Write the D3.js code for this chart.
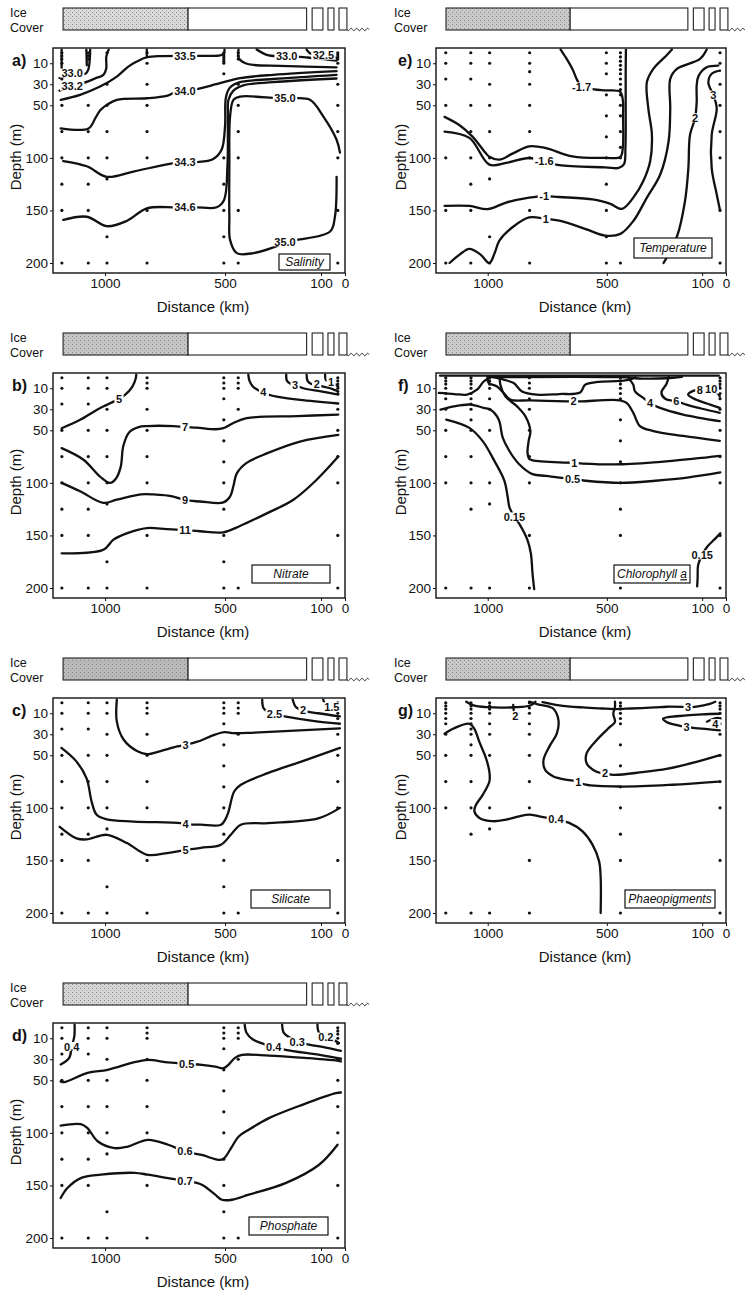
<!DOCTYPE html>
<html>
<head>
<meta charset="utf-8">
<script src="https://cdn.jsdelivr.net/npm/d3@7"></script>
<style>
  body { margin: 0; background: #fff; }
  svg text { font-family: "Liberation Sans", Arial, sans-serif; fill: #111; }
</style>
</head>
<body>
<div id="chart"></div>
<script>
// ---- data: distances in km, depths in m ----

const xTicks = [1000, 500, 100, 0];
const yTicks = [10, 30, 50, 100, 150, 200];

// ice cover along the transect (km)
const iceCover = [
  {from: 1175, to: 654, pack: true},
  {from: 654, to: 160, pack: false},
  {from: 137, to: 92, pack: false},
  {from: 71, to: 46, pack: false},
  {from: 25, to: -8, pack: false}
];
const openWater = [-8, -100];

// sampling stations [km, depths]
const samplesA = [
  [1180, [0, 3, 6, 10, 25, 50, 75, 100, 125, 150, 200]],
  [1070, [0, 3, 6, 50, 75, 100, 125, 150, 200]],
  [992, [0, 30, 50, 75, 100, 120, 175, 200]],
  [825, [0, 10, 30, 50, 75, 100, 150, 200]],
  [505, [0, 2, 4, 6, 8, 10, 20, 100, 125, 150, 175, 200]],
  [445, [0, 3, 6, 30, 50, 75, 100, 150, 200]],
  [30, [0, 2, 4, 6, 10, 30, 50, 75, 100, 150, 200]]
];
const samplesNut = [
  [1180, [0, 10, 25, 50, 75, 100, 125, 150, 200]],
  [1070, [0, 10, 25, 50, 75, 100, 125, 150, 200]],
  [992, [0, 10, 30, 50, 75, 100, 120, 175, 200]],
  [825, [0, 5, 10, 30, 50, 75, 100, 150, 200]],
  [505, [0, 5, 10, 20, 40, 60, 80, 100, 125, 150, 175, 200]],
  [445, [0, 5, 10, 30, 200]],
  [30, [0, 3, 6, 10, 15, 30, 50, 75, 100, 150, 200]]
];
const samplesTemp = [
  [1176, [0, 10, 25, 50, 100, 150, 200]],
  [1071, [0, 10, 25, 50, 75, 100, 125, 150, 200]],
  [992, [0, 10, 30, 50, 75, 100, 120, 175, 200]],
  [824, [0, 10, 18, 30, 50, 75, 100, 150, 200]],
  [502, [0, 10, 20, 40, 60, 80, 100, 125, 150, 175, 200]],
  [443, [0, 4, 8, 12, 16, 20, 25, 30, 35, 40, 50, 60, 75, 90, 100, 200]],
  [25, [0, 10, 30, 50, 75, 100, 150, 200]]
];
const samplesPig = [
  [1176, [0, 3, 6, 10, 15, 20, 30, 50, 75, 100, 200]],
  [1070, [0, 3, 6, 10, 15, 20, 25, 30, 40, 50, 75, 100, 125, 200]],
  [992, [0, 3, 6, 10, 20, 30, 50, 100, 120, 200]],
  [825, [0, 5, 10, 20, 30, 50, 75, 100, 150, 200]],
  [443, [0, 3, 6, 10, 15, 20, 40, 60, 80, 100, 125, 150, 200]],
  [25, [0, 3, 6, 10, 15, 20, 30, 50, 75, 100, 150, 200]]
];

// isolines: label, label position(s), points [km, depth]
const salinityLines = [
  {label: '33.0', at: [1137, 19.5], pts: [[1190, 24], [1165, 22], [1137, 19.5], [1105, 20.5], [1082, 20], [1070, 16], [1064, 7], [1062, -3]]},
  {label: '33.2', at: [1137, 32], pts: [[1190, 36], [1163, 34], [1137, 32], [1090, 28.8], [1042, 24.5], [1007, 21], [995, 15], [995, 4], [985, -3]]},
  {label: '33.5', at: [667, 3], pts: [[1185, 44.8], [1104, 40], [1021, 32.2], [951, 22.7], [903, 13.2], [868, 8.4], [826, 4.3], [760, 3.2], [667, 3], [580, 3], [520, 2.5], [505, 1], [502, -3]]},
  {label: null, pts: [[444, -3], [444, 4], [437, 6.8], [415, 10], [382, 11.6], [271, 12.5], [35, 14]]},
  {label: '34.0', at: [667, 37], pts: [[1185, 72], [1069, 72], [1040, 62], [1021, 55], [993, 49.6], [951, 44.8], [826, 43.3], [743, 41], [715, 38.5], [667, 37], [618, 34.7], [521, 29], [437, 24.2], [299, 21], [35, 17.5]]},
  {label: '34.3', at: [667, 104], pts: [[1174, 103], [1076, 108], [993, 118], [882, 113], [715, 105], [667, 104], [618, 104], [549, 101], [514, 92], [500, 70], [496, 42], [479, 33], [438, 28], [300, 25], [35, 21]]},
  {label: '34.6', at: [667, 147], pts: [[1174, 159], [1076, 156], [993, 165], [910, 160], [826, 148], [715, 147], [667, 147], [618, 147], [535, 147], [504, 140], [490, 108], [488, 60], [486, 45], [465, 36], [424, 31], [300, 28], [35, 24.5]]},
  {label: '35.0', at: [[250, 43.5], [250, 180]], pts: [[21, 95], [35, 82.8], [90, 60.7], [146, 44.8], [215, 43.3], [250, 43.5], [285, 43.3], [438, 41.7], [465, 44.8], [479, 60.7], [482, 108], [482, 156], [479, 178], [451, 190.6], [382, 190.6], [285, 184], [250, 180], [201, 178], [62, 170], [42, 156], [35, 118]]},
  {label: '33.0', at: [243, 3.5], pts: [[368, -3], [326, 2.1], [271, 3.5], [243, 3.5], [201, 3.7], [160, 4.5], [100, 5.8], [35, 7.5]]},
  {label: '32.5', at: [90, 2.5], pts: [[160, -3], [146, 0.5], [118, 2.1], [90, 2.5], [49, 3.7], [35, 5.3]]},
  {label: null, pts: [[1181, -3], [1181, 15]]},
  {label: null, pts: [[1078, -3], [1076, 12]]},
  {label: null, pts: [[826, -3], [826, 4.3]]}
];

const nitrateLines = [
  {label: '5', at: [942, 20], pts: [[1181, 48], [1104, 40], [1035, 30.6], [993, 25.8], [965, 22.7], [942, 20], [917, 16.3], [886, 8.4], [872, 0.5], [870, -3]]},
  {label: '7', at: [667, 47], pts: [[1181, 67], [1090, 78], [1021, 94], [979, 100], [955, 96], [935, 85], [924, 65], [900, 52], [860, 47], [826, 46], [715, 46], [667, 47], [618, 47.5], [540, 49], [507, 48], [465, 43], [410, 38.5], [200, 36.5], [28, 35]]},
  {label: '9', at: [667, 116.5], pts: [[1181, 100], [1104, 108], [1007, 119], [951, 116], [851, 111], [799, 111], [715, 113], [667, 116.5], [604, 117.7], [507, 118.6], [479, 113], [465, 103], [451, 91], [410, 81], [326, 72], [188, 60.7], [28, 54.3]]},
  {label: '11', at: [667, 145], pts: [[1181, 167], [1007, 163.6], [965, 154], [910, 148], [826, 143], [743, 144], [667, 145], [604, 146], [507, 147], [438, 141], [326, 129], [215, 116], [118, 97], [28, 75]]},
  {label: '4', at: [340, 14], pts: [[403, -3], [398, 3], [385, 8], [368, 11], [340, 14.5], [285, 18], [188, 21], [28, 24.5]]},
  {label: '3', at: [208, 7], pts: [[245, -3], [242, 3], [225, 6], [208, 7], [174, 10], [100, 13], [28, 16]]},
  {label: '2', at: [118, 6.5], pts: [[160, -3], [156, 3], [140, 6], [118, 7], [70, 9.5], [28, 13]]},
  {label: '1', at: [58, 4], pts: [[83, -3], [80, 2], [65, 4], [50, 5], [28, 8.5]]}
];

const silicateLines = [
  {label: '3', at: [664, 40], pts: [[951, -3], [951, 18], [923, 35], [867, 46], [825, 49], [769, 46], [699, 41.6], [664, 40], [615, 37], [545, 30.6], [503, 28], [462, 29], [378, 28.4], [21, 24.3]]},
  {label: '4', at: [664, 115.5], pts: [[1182, 43], [1119, 56], [1077, 72], [1056, 94], [1035, 106.6], [993, 111], [881, 113], [685, 114.5], [664, 115.5], [601, 116], [517, 116], [490, 106.6], [462, 84.4], [434, 78], [322, 67], [182, 56], [21, 43]]},
  {label: '5', at: [664, 140], pts: [[1189, 118], [1119, 129], [1077, 130], [993, 125.6], [909, 133.5], [825, 144.6], [741, 143], [685, 141], [664, 140], [601, 138], [517, 135], [476, 125.6], [434, 116], [322, 114.5], [112, 110], [21, 100]]},
  {label: '2.5', at: [294, 11], pts: [[345, -3], [340, 5], [320, 9], [294, 11], [252, 13], [112, 18], [21, 20]]},
  {label: '2', at: [175, 7.5], pts: [[218, -3], [205, 4], [175, 7.5], [112, 10], [21, 13]]},
  {label: '1.5', at: [55, 4], pts: [[91, -3], [80, 2.5], [55, 4], [21, 5.5]]}
];

const phosphateLines = [
  {label: '0.4', at: [1139, 18], pts: [[1185, 35], [1150, 29], [1139, 18], [1128, 8], [1127, -3]]},
  {label: '0.5', at: [660, 34.4], pts: [[1185, 51], [1171, 51.7], [1073, 43], [989, 40], [877, 32.8], [821, 30.6], [737, 33], [660, 34.4], [597, 35.3], [541, 37], [506, 38.5], [485, 35], [457, 28.4], [429, 25.8], [317, 26.5], [150, 29], [38, 31], [17, 32]]},
  {label: '0.4', at: [297, 18], pts: [[418, -3], [410, 5], [385, 11], [331, 16], [297, 18], [248, 21], [100, 26], [17, 29.5]]},
  {label: '0.3', at: [199, 13.5], pts: [[262, -3], [255, 5], [225, 10], [199, 13.5], [150, 16], [80, 19], [17, 22]]},
  {label: '0.2', at: [80, 9], pts: [[115, -3], [108, 5], [80, 9], [45, 12], [25, 14.5]]},
  {label: '0.6', at: [667, 117.7], pts: [[1185, 93], [1101, 91.7], [1073, 95.5], [1031, 108], [961, 114.5], [905, 113], [821, 106.6], [737, 111.3], [667, 117.7], [597, 121], [527, 125.6], [506, 124.6], [471, 113], [443, 103.4], [401, 97], [317, 86], [178, 73.3], [38, 62.3], [17, 61.6]]},
  {label: '0.7', at: [667, 145.5], pts: [[1185, 162], [1157, 152.5], [1101, 143], [1017, 139.8], [877, 138], [821, 139.8], [737, 143], [667, 145.5], [597, 149.3], [541, 158.8], [513, 163.6], [471, 163.6], [401, 158.8], [248, 147.8], [108, 130.3], [31, 111.3]]}
];

const temperatureLines = [
  {label: '-1.7', at: [606, 32.6], pts: [[1181, 61], [1118, 69], [1063, 80], [1010, 95], [993, 99], [951, 101.7], [896, 96], [826, 89.1], [756, 90.7], [645, 98.6], [506, 100], [443, 99], [433, 90], [432, 60], [433, 45], [445, 37], [506, 35.8], [554, 34.8], [606, 32.6], [624, 26.3], [645, 15.3], [673, 4.3], [694, -3]]},
  {label: '-1.6', at: [763, 103.3], pts: [[1181, 75], [1077, 81], [993, 106.4], [923, 104.8], [826, 100.1], [763, 103.3], [700, 107], [506, 109], [450, 109.6], [428, 106], [422, 90], [421, 50], [421, 20], [420, -3]]},
  {label: '-1', at: [763, 136.3], pts: [[1181, 145.7], [1077, 145.7], [1000, 148.8], [923, 142.5], [826, 137.8], [763, 136.3], [700, 137.2], [560, 139.4], [527, 141], [485, 143.8], [436, 148.5], [389, 137.8], [347, 122], [318, 103], [311, 77.8], [326, 53], [332, 27.9], [305, 15.4], [250, 2.7], [227, -3]]},
  {label: '1', at: [756, 158], pts: [[1160, 200], [1118, 192], [1077, 186.5], [1030, 192], [993, 200], [970, 190], [951, 178.7], [896, 166], [826, 156.7], [756, 158], [700, 159.8], [589, 167.7], [506, 174], [443, 172.3], [388, 159.8], [332, 137.8], [276, 115.8], [241, 84.4], [234, 53], [234, 24.8], [206, 15.4], [109, 5.9], [81, -3]]},
  {label: '2', at: [130, 62], pts: [[262, 200], [206, 175], [172, 141], [158, 110], [151, 78], [130, 62.5], [123, 46.7], [123, 31], [115, 22], [81, 13.8], [32, 12.2]]},
  {label: '3', at: [53, 40.4], pts: [[25, 17], [60, 20], [74, 28], [60, 37], [53, 40.4], [39, 53], [60, 78], [60, 110], [39, 134.6], [25, 150]]}
];

const chlorophyllLines = [
  {label: null, pts: [[1200, -2], [30, -2]]},
  {label: null, pts: [[1000, -0.5], [445, -0.5], [350, 0.8], [250, 0.5], [185, -0.8]]},
  {label: null, pts: [[1205, 14.5], [1140, 15.5], [1087, 16], [1045, 11.4], [1017, 3.6], [989, -0.5]]},
  {label: null, pts: [[985, -1], [930, 2], [891, 5.1], [856, 13], [794, 16.1], [700, 15.5], [612, 14], [591, 6.7], [540, 4], [445, 3], [400, 1.5], [380, -0.5]]},
  {label: '2', at: [640, 22.4], pts: [[1000, -1], [996, 5], [961, 8.3], [933, 14.5], [905, 20.8], [821, 21.5], [668, 22.4], [640, 22.4], [605, 22.4], [445, 21.5], [417, 24], [389, 33.4], [361, 46], [305, 50.7], [180, 55.4], [26, 60.1]]},
  {label: '4', at: [319, 24], pts: [[410, -1], [403, 2], [389, 6.7], [382, 13], [347, 19.2], [319, 24], [277, 28.7], [180, 35], [26, 41.3]]},
  {label: '6', at: [208, 22.4], pts: [[240, -1], [250, 6], [271, 14], [255, 20], [208, 22.4], [166, 25.5], [100, 29.5], [26, 33.4]]},
  {label: '8', at: [110, 11.5], pts: [[26, 8.3], [61, 8.5], [105, 11], [138, 12.5], [159, 16], [124, 21], [80, 24.5], [26, 28.7]]},
  {label: '10', at: [62, 11], pts: [[40, 14], [30, 16], [26, 18]]},
  {label: '1', at: [637, 81], pts: [[950, -1], [947, 6.7], [926, 17.7], [877, 27.2], [842, 36.6], [821, 50.7], [828, 60], [833, 71], [826, 77], [812, 78.5], [672, 80.7], [637, 81], [602, 81.6], [435, 82.3], [226, 79.1], [24, 74.4]]},
  {label: '0.5', at: [644, 96.4], pts: [[1198, 30.3], [1142, 27.2], [1072, 25.5], [1017, 28.7], [989, 30.3], [954, 39.7], [937, 57], [909, 69.7], [868, 82.3], [812, 91.7], [756, 93.3], [700, 95], [644, 96.4], [589, 98], [442, 100], [296, 98], [156, 94.8], [24, 90.1]]},
  {label: '0.15', at: [888, 132.5], pts: [[1174, 39.8], [1077, 47.7], [1021, 60.3], [972, 79.1], [930, 98], [916, 113.7], [909, 123], [888, 132.5], [868, 138.8], [833, 154.5], [819, 167], [812, 186], [805, 201]]},
  {label: '0.15', at: [100, 168.7], pts: [[24, 148], [45, 153], [79, 160.8], [100, 168.7], [117, 178], [119, 190], [121, 198.5]]}
];

const pheoLines = [
  {label: null, pts: [[1090, -1], [1060, 2.5], [1003, 4.2], [891, 4.3], [821, 2.6], [800, -1]]},
  {label: '3', at: [159, 4], pts: [[770, -0.5], [700, 2.5], [600, 4.5], [520, 5.5], [470, 6], [400, 5.5], [300, 4.5], [250, 3.8], [180, 4], [159, 4.2], [124, 3.6], [68, 1], [45, -1]]},
  {label: '2', at: [884, 13], pts: [[893, 2], [891, 7]]},
  {label: '1', at: [620, 76], pts: [[826, -1], [790, 1.5], [740, 4], [724, 5.8], [703, 16.8], [710, 29.3], [738, 40.3], [766, 54.5], [759, 63.9], [724, 70.1], [668, 73.3], [626, 74.8], [589, 78], [442, 79.7], [226, 78], [31, 75]]},
  {label: '2', at: [508, 67], pts: [[466, -1], [466, 4], [473, 10.5], [466, 18.3], [487, 23], [543, 35.6], [585, 48.2], [585, 57.6], [557, 63.9], [522, 67], [508, 67], [473, 68.6], [350, 66], [250, 63], [120, 56], [26, 49.8]]},
  {label: '3', at: [166, 23], pts: [[26, 10.5], [100, 11], [166, 12.1], [264, 15.2], [250, 18.3], [201, 21.5], [166, 23], [145, 23.7], [26, 26.2]]},
  {label: '4', at: [45, 20], pts: [[80, 18], [55, 15.5], [35, 14.5], [26, 15]]},
  {label: '0.4', at: [714, 111.2], pts: [[1181, 29.5], [1146, 24.8], [1077, 20], [1056, 24.8], [1035, 37.3], [1007, 53], [993, 65.6], [993, 75], [1021, 87.6], [1049, 97], [1056, 103.3], [1035, 109.6], [979, 112.7], [923, 111.2], [868, 108], [826, 106.5], [784, 108], [714, 111.2], [658, 114.3], [603, 122.2], [561, 134.7], [533, 150.4], [526, 166.1], [526, 200]]}
];

// ---- layout ----
const panelH = 325;
const cols = [
  {x0: 53, x1: 345, tag: 12, depthX: 16, iceX: 10},
  {x0: 436, x1: 726, tag: 398, depthX: 401, iceX: 394}
];
const panels = [
  {key: 'a', col: 0, row: 0, title: 'Salinity', lines: salinityLines, samples: samplesA, shade: '#dadada', box: [279, 254, 51, 16]},
  {key: 'b', col: 0, row: 1, title: 'Nitrate', lines: nitrateLines, samples: samplesNut, shade: '#c6c6c6', box: [252, 240, 78, 18]},
  {key: 'c', col: 0, row: 2, title: 'Silicate', lines: silicateLines, samples: samplesNut, shade: '#bababa', box: [251, 240, 79, 18]},
  {key: 'd', col: 0, row: 3, title: 'Phosphate', lines: phosphateLines, samples: samplesNut, shade: '#d6d6d6', box: [249, 242, 79, 18]},
  {key: 'e', col: 1, row: 0, title: 'Temperature', lines: temperatureLines, samples: samplesTemp, shade: '#cacaca', box: [634, 238, 78, 20]},
  {key: 'f', col: 1, row: 1, title: 'Chlorophyll a', lines: chlorophyllLines, samples: samplesPig, shade: '#cccccc', box: [614, 240, 76, 18]},
  {key: 'g', col: 1, row: 2, title: 'Phaeopigments', lines: pheoLines, samples: samplesPig, shade: '#c8c8c8', box: [625, 240, 90, 18]}
];

const svg = d3.select('#chart').append('svg')
    .attr('width', 745)
    .attr('height', 1290);
const defs = svg.append('defs');

panels.forEach(function (p) {
  const c = cols[p.col];
  const top = p.row * panelH;
  const x = d3.scaleLinear().domain([1217, 0]).range([c.x0, c.x1]);
  const y = d3.scaleLinear().domain([-4.5, 209.5]).range([top + 48, top + 273]);
  const g = svg.append('g').attr('class', 'panel-' + p.key);

  // ice cover strip
  const pat = defs.append('pattern')
      .attr('id', 'ice-' + p.key)
      .attr('width', 4).attr('height', 4)
      .attr('patternUnits', 'userSpaceOnUse');
  pat.append('rect').attr('width', 4).attr('height', 4).attr('fill', p.shade);
  pat.append('rect').attr('width', 1).attr('height', 1).attr('fill', '#858585');
  pat.append('rect').attr('x', 2).attr('y', 2).attr('width', 1).attr('height', 1).attr('fill', '#a0a0a0');

  g.selectAll('.ice').data(iceCover).join('rect')
      .attr('class', 'ice')
      .attr('x', d => x(d.from))
      .attr('width', d => x(d.to) - x(d.from))
      .attr('y', top + 8)
      .attr('height', 22)
      .attr('fill', d => d.pack ? `url(#ice-${p.key})` : '#fff')
      .attr('stroke', '#222')
      .attr('stroke-width', 1.1);

  // wavy open water
  const wx0 = x(openWater[0]);
  const wx1 = x(openWater[1]);
  const wave = d3.range(0, 41).map(i => [wx0 + (wx1 - wx0) * i / 40, top + 29.5 + 1.2 * Math.sin(i * Math.PI / 5)]);
  g.append('path')
      .attr('d', d3.line()(wave))
      .attr('fill', 'none')
      .attr('stroke', '#222')
      .attr('stroke-width', 1);

  g.append('text').attr('x', c.iceX).attr('y', top + 17)
      .attr('font-family', 'DejaVu Sans').attr('font-size', 12.5).text('Ice');
  g.append('text').attr('x', c.iceX).attr('y', top + 32)
      .attr('font-family', 'DejaVu Sans').attr('font-size', 12.5).text('Cover');

  // axes
  const yAxis = g.append('g')
      .attr('transform', `translate(${c.x0},0)`)
      .call(d3.axisLeft(y).tickValues(yTicks).tickSize(3).tickPadding(2).tickSizeOuter(0));
  const xAxis = g.append('g')
      .attr('transform', `translate(0,${top + 273})`)
      .call(d3.axisBottom(x).tickValues(xTicks).tickFormat(d3.format('d')).tickSize(3).tickPadding(2).tickSizeOuter(0));
  [yAxis, xAxis].forEach(a => {
    a.select('.domain').remove();
    a.selectAll('text').attr('font-family', '"Liberation Sans", Arial, sans-serif').attr('font-size', 13.5).attr('fill', '#111');
    a.selectAll('line').attr('stroke', '#111');
  });

  g.append('text')
      .attr('x', (c.x0 + c.x1) / 2 + 4)
      .attr('y', top + 312)
      .attr('text-anchor', 'middle')
      .attr('font-size', 15)
      .text('Distance (km)');
  g.append('text')
      .attr('transform', `translate(${c.depthX + 5},${top + 157}) rotate(-90)`)
      .attr('text-anchor', 'middle')
      .attr('font-size', 15)
      .text('Depth (m)');
  g.append('text')
      .attr('x', c.tag)
      .attr('y', top + 66)
      .attr('font-size', 16)
      .attr('font-weight', 'bold')
      .text(p.key + ')');

  // isolines
  defs.append('clipPath').attr('id', 'clip-' + p.key)
    .append('rect')
      .attr('x', c.x0).attr('y', top + 48)
      .attr('width', c.x1 - c.x0).attr('height', 225);

  const line = d3.line()
      .x(d => x(d[0]))
      .y(d => y(d[1]))
      .curve(d3.curveCatmullRom.alpha(0.5));

  const plot = g.append('g').attr('clip-path', `url(#clip-${p.key})`);
  plot.selectAll('.iso').data(p.lines).join('path')
      .attr('class', 'iso')
      .attr('d', d => line(d.pts))
      .attr('fill', 'none')
      .attr('stroke', '#111')
      .attr('stroke-width', 2.3)
      .attr('stroke-linejoin', 'round')
      .attr('stroke-linecap', 'round');

  // sample dots
  const dots = [];
  p.samples.forEach(s => s[1].forEach(dep => dots.push([s[0], dep])));
  plot.selectAll('.dot').data(dots).join('circle')
      .attr('class', 'dot')
      .attr('cx', d => x(d[0]))
      .attr('cy', d => y(d[1]))
      .attr('r', 1.6)
      .attr('fill', '#111');

  // isoline labels on white gaps
  const labels = [];
  p.lines.filter(l => l.label).forEach(l => {
    const ats = Array.isArray(l.at[0]) ? l.at : [l.at];
    ats.forEach(a => labels.push({text: l.label, at: a}));
  });
  const gapG = plot.append('g');
  const labG = plot.append('g');
  labG.selectAll('text').data(labels).join('text')
      .attr('x', d => x(d.at[0]))
      .attr('y', d => y(d.at[1]))
      .attr('dy', '0.35em')
      .attr('text-anchor', 'middle')
      .attr('font-size', 11)
      .attr('font-weight', 'bold')
      .text(d => d.text)
      .each(function () {
        const bb = this.getBBox();
        gapG.append('rect')
            .attr('x', bb.x - 1.5).attr('y', bb.y + 1.5)
            .attr('width', bb.width + 3).attr('height', bb.height - 3)
            .attr('fill', '#fff');
      });

  // variable name box
  const b = p.box;
  g.append('rect')
      .attr('x', b[0]).attr('y', top + b[1])
      .attr('width', b[2]).attr('height', b[3])
      .attr('fill', '#fff')
      .attr('stroke', '#111')
      .attr('stroke-width', 1.2);
  const t = g.append('text')
      .attr('x', b[0] + b[2] / 2)
      .attr('y', top + b[1] + b[3] / 2)
      .attr('dy', '0.35em')
      .attr('text-anchor', 'middle')
      .attr('font-size', 12)
      .attr('font-style', 'italic');
  if (p.key === 'f') {
    t.append('tspan').text('Chlorophyll ');
    t.append('tspan').attr('text-decoration', 'underline').text('a');
  } else {
    t.text(p.title);
  }

  // frame
  g.append('rect')
      .attr('x', c.x0).attr('y', top + 48)
      .attr('width', c.x1 - c.x0).attr('height', 225)
      .attr('fill', 'none')
      .attr('stroke', '#111')
      .attr('stroke-width', 1.4);
});
</script>
</body>
</html>
